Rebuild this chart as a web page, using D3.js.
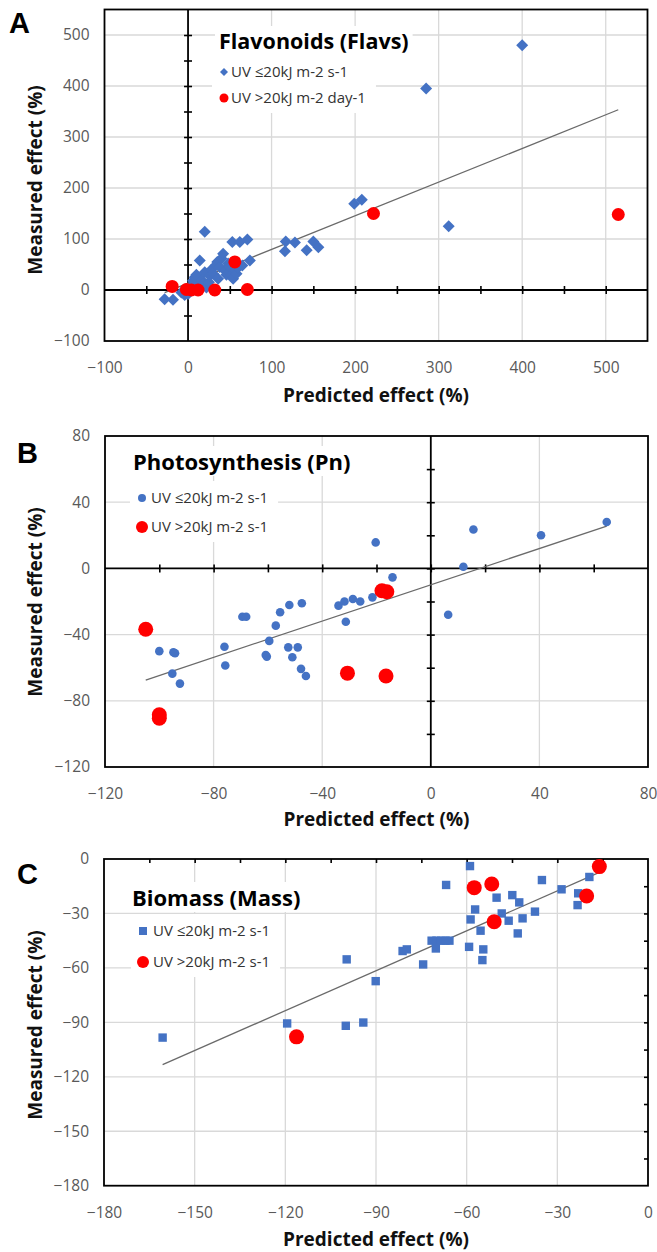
<!DOCTYPE html>
<html>
<head>
<meta charset="utf-8">
<script src="https://cdn.jsdelivr.net/npm/d3@7"></script>
<style>
  body { margin: 0; background: #fff; }
  svg { display: block; }
</style>
</head>
<body>
<svg id="chart" width="657" height="1252"></svg>
<script>
// ---- Panel A: flavonoids (predicted %, measured %) ----
const flavsLow = [
  [-28,-18], [-18,-19], [-8,-5], [-4,-10], [-2,-3], [0,-8], [2,3], [5,10], [6,18], [8,25],
  [10,30], [12,8], [14,58], [16,20], [18,12], [20,114], [20,35], [22,5], [25,15], [26,28],
  [28,40], [30,32], [33,48], [35,55], [36,22], [38,45], [40,62], [42,71], [44,38], [46,30],
  [48,52], [50,45], [52,30], [53,94], [54,22], [56,38], [58,32], [60,44], [62,94], [65,48],
  [71,99], [74,58], [117,95], [116,76], [128,93], [142,78], [150,95], [156,84], [199,169],
  [208,177], [285,395], [312,125], [400,480]
];
const flavsHigh = [[-19,7], [-2,1], [4,0], [12,0], [32,0], [56,55], [71,1], [222,150], [515,148]];
const flavsTrend = { slope: 0.66, intercept: 13.5, from: -28, to: 515 };
const flavsXTicks = [-100, 0, 100, 200, 300, 400, 500];
const flavsYTicks = [-100, 0, 100, 200, 300, 400, 500];
const flavsLegend = ["UV \u226420kJ m-2 s-1", "UV >20kJ m-2 day-1"];

// ---- Panel B: photosynthesis ----
const pnLow = [
  [-100,-50], [-94.8,-50.7], [-94.2,-51.3], [-95.2,-63.6], [-92.4,-69.6], [-76,-47.3], [-75.7,-58.7],
  [-69.4,-29.2], [-68,-29.2], [-57.1,-34.6], [-59.5,-43.8], [-60.8,-52.3], [-60.4,-53.3],
  [-55.5,-26.5], [-52.1,-22.1], [-47.5,-21.1], [-52.5,-47.7], [-49,-47.7], [-51,-53.7],
  [-47.8,-60.7], [-46,-65], [-34,-22.5], [-31.8,-20], [-28.7,-18.5], [-26,-20], [-31.3,-32.2],
  [-21.5,-17.5], [-20.3,15.7], [-14.1,-5.4], [6.4,-28], [12,1], [15.7,23.5], [40.6,20], [64.8,28]
];
const pnHigh = [[-105,-36.8], [-100,-88.5], [-100,-90.5], [-18,-13.5], [-16.2,-14.1], [-30.7,-63.3], [-16.5,-65]];
const pnTrend = { slope: 0.548, intercept: -9.9, from: -105, to: 64.8 };
const pnTicks = [-120, -80, -40, 0, 40, 80];
const pnLegend = ["UV \u226420kJ m-2 s-1", "UV >20kJ m-2 s-1"];

// ---- Panel C: biomass ----
const massLow = [
  [-160.6,-98.4], [-119.4,-90.6], [-58.9,-3.9], [-19.4,-9.9], [-35.1,-11.6], [-66.8,-14.3],
  [-28.6,-16.7], [-50.1,-21.3], [-44.9,-19.9], [-42.6,-23.9], [-23.1,-18.9], [-23.3,-25.4],
  [-57.2,-27.8], [-37.4,-29], [-48.4,-30], [-58.7,-33.3], [-41.5,-32.7], [-46.1,-34],
  [-55.4,-39.5], [-43.1,-41], [-71.6,-45], [-70,-45], [-68.5,-45], [-67,-45], [-65.7,-45],
  [-70.2,-49.3], [-59.2,-48.4], [-54.5,-49.8], [-54.8,-55.7], [-81.2,-50.7], [-79.8,-49.8],
  [-74.4,-58.1], [-99.7,-55.3], [-90.1,-67.3], [-100,-91.9], [-94.2,-90.1]
];
const massHigh = [[-116.3,-98], [-16.1,-4.2], [-57.5,-15.8], [-51.7,-13.8], [-20.3,-20.4], [-50.9,-34.6]];
const massTrend = { slope: 0.733, intercept: 4.4, from: -160.6, to: -16.1 };
const massTicks = [-180, -150, -120, -90, -60, -30, 0];
const massLegend = ["UV \u226420kJ m-2 s-1", "UV >20kJ m-2 s-1"];

const BLUE = "#4472C4", RED = "#FF0000", GRID = "#d9d9d9";
const FONT = "'Open Sans', Lato, sans-serif";
const svg = d3.select("#chart");

function drawPanel(c) {
  const g = svg.append("g");
  const x = d3.scaleLinear().domain(c.xDomain).range(c.xRange);
  const y = d3.scaleLinear().domain(c.yDomain).range(c.yRange);
  const [x0, x1] = c.xRange, [y0, y1] = c.yRange;
  const inner = (v, dom) => v !== dom[0] && v !== dom[1] && (v !== 0 || !c.axesAtZero);

  // gridlines
  g.selectAll(".vg").data(c.xTicks.filter(v => inner(v, c.xDomain)))
    .join("line").attr("x1", d => x(d)).attr("x2", d => x(d)).attr("y1", y0).attr("y2", y1)
    .attr("stroke", GRID).attr("stroke-width", 1.3);
  g.selectAll(".hg").data(c.yTicks.filter(v => inner(v, c.yDomain)))
    .join("line").attr("y1", d => y(d)).attr("y2", d => y(d)).attr("x1", x0).attr("x2", x1)
    .attr("stroke", GRID).attr("stroke-width", 1.3);

  if (c.axesAtZero) {
    // axes through the origin with crossing ticks
    const xa = g.append("g").attr("transform", `translate(0,${y(0) - 4})`)
      .call(d3.axisBottom(x).tickValues(c.xMinor).tickSize(8).tickSizeOuter(0).tickFormat(""));
    xa.select(".domain").remove();
    const ya = g.append("g").attr("transform", `translate(${x(0) + 4},0)`)
      .call(d3.axisLeft(y).tickValues(c.yMinor).tickSize(8).tickSizeOuter(0).tickFormat(""));
    ya.select(".domain").remove();
    g.selectAll(".tick line").attr("stroke", "#000").attr("stroke-width", 1.6);
    g.append("line").attr("x1", x0).attr("x2", x1).attr("y1", y(0)).attr("y2", y(0)).attr("stroke", "#000").attr("stroke-width", 1.8);
    g.append("line").attr("x1", x(0)).attr("x2", x(0)).attr("y1", y0).attr("y2", y1).attr("stroke", "#000").attr("stroke-width", 1.8);
  } else {
    // axes lie on the top and right edges; ticks point inward
    const xa = g.append("g").attr("transform", `translate(0,${y(0)})`)
      .call(d3.axisBottom(x).tickValues(c.xMinor).tickSize(4).tickSizeOuter(0).tickFormat(""));
    xa.select(".domain").remove();
    const ya = g.append("g").attr("transform", `translate(${x(0)},0)`)
      .call(d3.axisLeft(y).tickValues(c.yMinor).tickSize(4).tickSizeOuter(0).tickFormat(""));
    ya.select(".domain").remove();
    g.selectAll(".tick line").attr("stroke", "#000").attr("stroke-width", 1.6);
  }

  // frame
  g.append("rect").attr("x", x0).attr("y", y1).attr("width", x1 - x0).attr("height", y0 - y1)
    .attr("fill", "none").attr("stroke", "#000").attr("stroke-width", 1.8);

  // tick labels along the frame
  const bx = g.append("g").attr("transform", `translate(0,${y0})`)
    .call(d3.axisBottom(x).tickValues(c.xTicks).tickSize(0).tickPadding(c.xPad));
  const ly = g.append("g").attr("transform", `translate(${x0},0)`)
    .call(d3.axisLeft(y).tickValues(c.yTicks).tickSize(0).tickPadding(c.yPad));
  [bx, ly].forEach(a => {
    a.select(".domain").remove();
    a.selectAll("text").attr("font-family", FONT).attr("font-size", 15.5).attr("fill", "#595959");
  });

  // trend line
  const t = c.trend;
  g.append("line")
    .attr("x1", x(t.from)).attr("y1", y(t.slope * t.from + t.intercept))
    .attr("x2", x(t.to)).attr("y2", y(t.slope * t.to + t.intercept))
    .attr("stroke", "#6a6a6a").attr("stroke-width", 1.3);

  // legend (white box over gridlines)
  const lg = g.append("g");
  const title = lg.append("text").attr("x", c.legend.x).attr("y", c.legend.titleY)
    .attr("font-family", FONT).attr("font-weight", 700).attr("font-size", c.legend.titleSize)
    .attr("fill", "#000").text(c.legend.title);
  const items = lg.append("g");
  c.legend.labels.forEach((lab, i) => {
    items.append("text").attr("x", c.legend.textX).attr("y", c.legend.itemY[i])
      .attr("font-family", FONT).attr("font-size", 15).attr("fill", "#333").text(lab);
  });
  const tb = title.node().getBBox(), ib = items.node().getBBox();
  lg.insert("rect", ":first-child").attr("x", tb.x - 4).attr("y", tb.y).attr("width", tb.width + 8).attr("height", tb.height).attr("fill", "#fff");
  lg.insert("rect", ":first-child").attr("x", c.legend.markX - 12).attr("y", ib.y - 6).attr("width", ib.x + ib.width - c.legend.markX + 22).attr("height", ib.height + 12).attr("fill", "#fff");

  const markLow = (sel, cx, cy, big) => {
    const s = big ? c.lowSize : c.legendLowSize;
    if (c.shape === "diamond") {
      sel.append("path").attr("d", `M${cx},${cy - s}L${cx + s},${cy}L${cx},${cy + s}L${cx - s},${cy}Z`).attr("fill", BLUE);
    } else if (c.shape === "square") {
      sel.append("rect").attr("x", cx - s).attr("y", cy - s).attr("width", 2 * s).attr("height", 2 * s).attr("fill", BLUE);
    } else {
      sel.append("circle").attr("cx", cx).attr("cy", cy).attr("r", s).attr("fill", BLUE);
    }
  };
  markLow(lg, c.legend.markX, c.legend.itemY[0] - 5, false);
  lg.append("circle").attr("cx", c.legend.markX).attr("cy", c.legend.itemY[1] - 5).attr("r", c.legendHighR).attr("fill", RED);

  // points
  const pts = g.append("g");
  c.low.forEach(d => markLow(pts, x(d[0]), y(d[1]), true));
  pts.selectAll(".hi").data(c.high).join("circle")
    .attr("cx", d => x(d[0])).attr("cy", d => y(d[1])).attr("r", c.highR).attr("fill", RED);

  // axis titles and panel letter
  g.append("text").attr("x", (x0 + x1) / 2).attr("y", c.xTitleY).attr("text-anchor", "middle")
    .attr("font-family", FONT).attr("font-weight", 700).attr("font-size", 19).attr("fill", "#111")
    .text("Predicted effect (%)");
  g.append("text").attr("transform", `translate(42,${c.yTitleY}) rotate(-90)`).attr("text-anchor", "middle")
    .attr("font-family", FONT).attr("font-weight", 700).attr("font-size", 19).attr("fill", "#111")
    .text("Measured effect (%)");
  g.append("text").attr("x", c.letterX).attr("y", c.letterY)
    .attr("font-family", "'Liberation Sans', Arial, sans-serif").attr("font-weight", 700).attr("font-size", 29)
    .attr("fill", "#000").text(c.letter);
}

drawPanel({
  letter: "A", letterX: 9, letterY: 33,
  xDomain: [-100, 550], xRange: [104.5, 647.5],
  yDomain: [-100, 550], yRange: [341, 9.5],
  xTicks: flavsXTicks, yTicks: flavsYTicks,
  xMinor: d3.range(-50, 550, 50), yMinor: d3.range(-50, 550, 50),
  axesAtZero: true, xPad: 21, yPad: 15,
  trend: flavsTrend, low: flavsLow, high: flavsHigh,
  shape: "diamond", lowSize: 6, legendLowSize: 4, highR: 6.5, legendHighR: 4.5,
  xTitleY: 402, yTitleY: 180,
  legend: { title: "Flavonoids (Flavs)", x: 219, titleY: 49, titleSize: 21.5,
            markX: 224, textX: 231, itemY: [77, 103], labels: flavsLegend }
});

drawPanel({
  letter: "B", letterX: 17, letterY: 463,
  xDomain: [-120, 80], xRange: [105, 648],
  yDomain: [-120, 80], yRange: [767, 436],
  xTicks: pnTicks, yTicks: pnTicks,
  xMinor: d3.range(-100, 80, 20), yMinor: d3.range(-100, 80, 20),
  axesAtZero: true, xPad: 21, yPad: 15,
  trend: pnTrend, low: pnLow, high: pnHigh,
  shape: "circle", lowSize: 4.3, legendLowSize: 4, highR: 7.5, legendHighR: 6,
  xTitleY: 826, yTitleY: 602,
  legend: { title: "Photosynthesis (Pn)", x: 133, titleY: 470, titleSize: 22,
            markX: 142, textX: 151, itemY: [503, 532], labels: pnLegend }
});

drawPanel({
  letter: "C", letterX: 17, letterY: 884,
  xDomain: [-180, 0], xRange: [104, 648],
  yDomain: [-180, 0], yRange: [1185.7, 859],
  xTicks: massTicks, yTicks: massTicks,
  xMinor: d3.range(-165, 0, 15), yMinor: d3.range(-165, 0, 15),
  axesAtZero: false, xPad: 21, yPad: 15,
  trend: massTrend, low: massLow, high: massHigh,
  shape: "square", lowSize: 4.2, legendLowSize: 4, highR: 7.5, legendHighR: 6,
  xTitleY: 1246, yTitleY: 1025,
  legend: { title: "Biomass (Mass)", x: 132, titleY: 906, titleSize: 22,
            markX: 143, textX: 153, itemY: [936, 967], labels: massLegend }
});
</script>
</body>
</html>
